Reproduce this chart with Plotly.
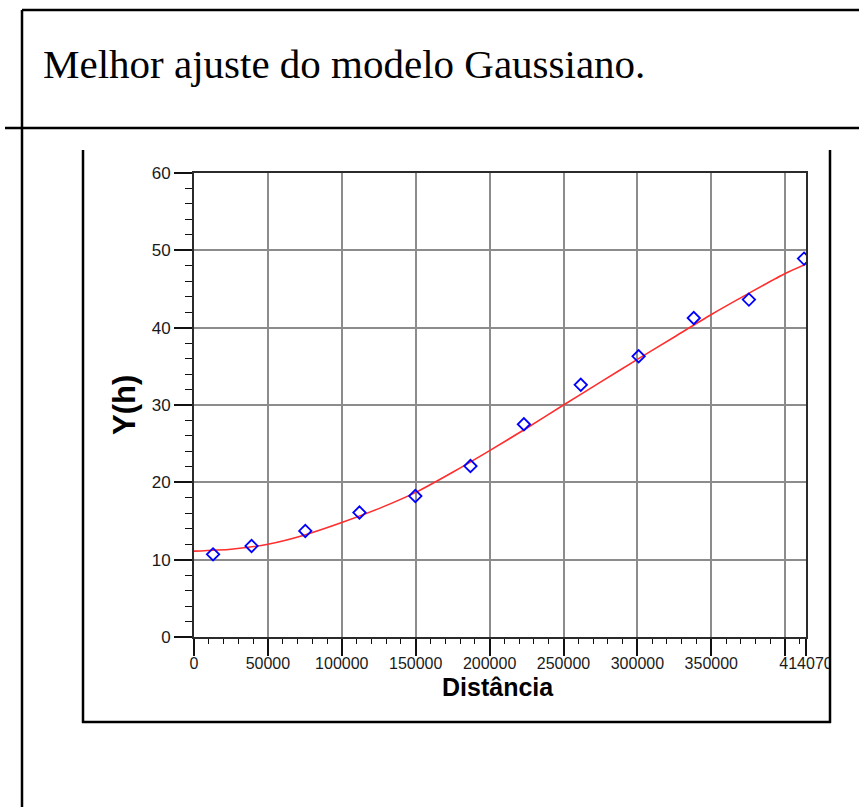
import plotly.graph_objects as go

# ---------------- data ----------------
lags = [12890, 38940, 75300, 111940, 149730, 187040, 223200, 261670, 300810, 338130, 375440, 412750]
semivariance = [10.69, 11.77, 13.71, 16.09, 18.23, 22.11, 27.51, 32.61, 36.30, 41.25, 43.63, 48.93]

fit_lags = [0, 25000, 50000, 75000, 100000, 125000, 150000, 175000, 200000, 225000,
            250000, 275000, 300000, 325000, 350000, 375000, 400000, 414070]
fit_values = [11.1, 11.35, 12.0, 13.2, 14.8, 16.6, 18.7, 21.3, 24.1, 27.0,
              30.0, 32.95, 35.9, 38.8, 41.7, 44.4, 47.0, 48.2]

x_tickvals = [0, 50000, 100000, 150000, 200000, 250000, 300000, 350000, 400000, 414070]
x_ticktext = ["0", "50000", "100000", "150000", "200000", "250000", "300000", "350000", "", "414070"]
y_tickvals = [0, 10, 20, 30, 40, 50, 60]

title_text = "Melhor ajuste do modelo Gaussiano."
x_title = "Distância"
y_title = "Y(h)"

# ---------------- layout geometry (pixels) ----------------
W, H = 859, 807
L, R, T, B = 194, 806, 173, 637


def px_x(p):
    return (p - L) / (R - L)


def px_y(p):
    return (B - p) / (B - T)


fig = go.Figure()
fig.add_trace(go.Scatter(
    x=fit_lags, y=fit_values, mode="lines",
    line=dict(color="rgb(255,45,45)", width=1.6, shape="spline", smoothing=0.6),
    name="Modelo Gaussiano", hoverinfo="skip",
))
fig.add_trace(go.Scatter(
    x=lags, y=semivariance, mode="markers",
    marker=dict(symbol="diamond-open", size=9.5, color="#0000ff",
                line=dict(width=1.8, color="#0000ff")),
    name="Semivariograma",
))

tickfont = dict(family="Liberation Sans, Arial, sans-serif", size=16, color="#1a1a1a")

fig.update_layout(
    width=W, height=H, autosize=False,
    margin=dict(l=L, r=W - R, t=T, b=H - B, pad=0),
    paper_bgcolor="white", plot_bgcolor="white",
    showlegend=False,
    xaxis=dict(
        range=[0, 414070], tickmode="array", tickvals=x_tickvals, ticktext=x_ticktext,
        tickangle=0, ticks="outside", ticklen=17, tickwidth=1.6, tickcolor="#111",
        ticklabelstandoff=-6,
        showgrid=True, gridcolor="#8c8c8c", gridwidth=1.5,
        showline=True, linecolor="#2b2b2b", linewidth=2, mirror=True,
        zeroline=False, tickfont=tickfont,
        minor=dict(tickmode="linear", tick0=0, dtick=10000, ticks="outside",
                   ticklen=5, tickwidth=1.3, tickcolor="#111", showgrid=False),
    ),
    yaxis=dict(
        range=[0, 60], tickmode="array", tickvals=y_tickvals,
        ticks="outside", ticklen=18, tickwidth=1.6, tickcolor="#111",
        showgrid=True, gridcolor="#8c8c8c", gridwidth=1.5,
        showline=True, linecolor="#2b2b2b", linewidth=2, mirror=True,
        zeroline=False, tickfont=dict(family="Liberation Sans, Arial, sans-serif", size=17, color="#1a1a1a"),
        minor=dict(tickmode="linear", tick0=0, dtick=2, ticks="outside",
                   ticklen=7, tickwidth=1.3, tickcolor="#111", showgrid=False),
    ),
)

# table / frame lines around the chart
line_k = dict(color="black", width=2.5)
shapes = [
    dict(type="line", xref="paper", yref="paper", x0=px_x(22), x1=px_x(859), y0=px_y(10), y1=px_y(10), line=line_k),
    dict(type="line", xref="paper", yref="paper", x0=px_x(5), x1=px_x(859), y0=px_y(128), y1=px_y(128), line=line_k),
    dict(type="line", xref="paper", yref="paper", x0=px_x(22), x1=px_x(22), y0=px_y(10), y1=px_y(807), line=line_k),
    # white cover clipping the last tick label at the image border
    dict(type="rect", xref="paper", yref="paper", x0=px_x(831), x1=px_x(859), y0=px_y(645), y1=px_y(700),
         fillcolor="white", line=dict(width=0), layer="above"),
    dict(type="line", xref="paper", yref="paper", x0=px_x(83), x1=px_x(83), y0=px_y(150), y1=px_y(723), line=line_k),
    dict(type="line", xref="paper", yref="paper", x0=px_x(82), x1=px_x(831), y0=px_y(722), y1=px_y(722), line=line_k),
    dict(type="line", xref="paper", yref="paper", x0=px_x(830), x1=px_x(830), y0=px_y(150), y1=px_y(723), line=line_k),
]
fig.update_layout(shapes=shapes)

fig.add_annotation(text=title_text, xref="paper", yref="paper", x=px_x(41), y=px_y(64),
                   xanchor="left", yanchor="middle", showarrow=False,
                   font=dict(family="Liberation Serif, Times New Roman, serif", size=41, color="black"))
fig.add_annotation(text=x_title, xref="paper", yref="paper", x=px_x(498), y=px_y(687),
                   xanchor="center", yanchor="middle", showarrow=False,
                   font=dict(family="Liberation Sans, Arial, sans-serif", size=25, color="black", weight="bold"))
fig.add_annotation(text=y_title, xref="paper", yref="paper", x=px_x(124), y=px_y(405),
                   xanchor="center", yanchor="middle", showarrow=False, textangle=-90,
                   font=dict(family="Liberation Sans, Arial, sans-serif", size=31, color="black", weight="bold"))

fig.write_html("out.html", post_script="document.body.style.margin='0px';",
               config={"displayModeBar": False})
